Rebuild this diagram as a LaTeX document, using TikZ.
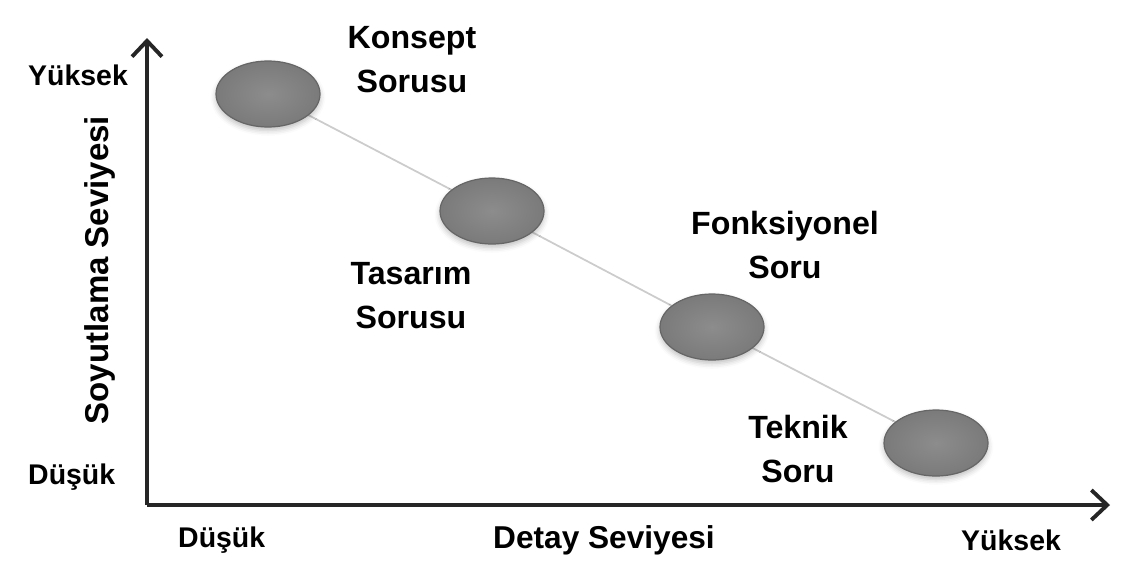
\documentclass[tikz,border=0pt]{standalone}
\usepackage{fontspec}
\setmainfont{Liberation Sans}
\usetikzlibrary{arrows.meta,shadows.blur,shapes.geometric,backgrounds}
\begin{document}
\begin{tikzpicture}[x=0.02cm,y=-0.02cm,
  axis/.style={line width=2pt,draw=black!85,-{Straight Barb[length=9pt,width=17pt,line width=2.2pt]}},
  link/.style={draw=black!20,line width=1pt},
  disc/.style={ellipse,minimum width=104*0.02cm,minimum height=66*0.02cm,inner sep=0pt,
    draw=black!60,line width=0.7pt,inner color=black!45,outer color=black!52,
    blur shadow={shadow xshift=0pt,shadow yshift=-2pt,shadow blur radius=3pt,shadow opacity=25}},
  qlabel/.style={font=\bfseries\fontsize{18.3}{25}\selectfont,align=center},
  tick/.style={font=\bfseries\fontsize{16.2}{19}\selectfont},
  title/.style={font=\bfseries\fontsize{18}{21}\selectfont}]
\useasboundingbox (0,0) rectangle (1131,565);
% axes
\coordinate (O) at (147,505);
\coordinate (ytop) at (147,38);
\coordinate (xend) at (1110,505);
\draw[axis] (O) -- (ytop);
\draw[axis] (O) -- (xend);
% discs along the diagonal
\node[disc] (c1) at (268,94) {};
\node[disc] (c2) at (492,211) {};
\node[disc] (c3) at (712,327) {};
\node[disc] (c4) at (936,443) {};
\begin{scope}[on background layer]
  \draw[link] (c1.center) -- (c2.center) -- (c3.center) -- (c4.center);
\end{scope}
% labels of the discs
\node[qlabel] (l1) at (412,60) {Konsept\\Sorusu};
\node[qlabel] (l2) at (411,296) {Tasarım\\Sorusu};
\node[qlabel] (l3) at (785,245) {Fonksiyonel\\Soru};
\node[qlabel] (l4) at (798,449) {Teknik\\Soru};
% axis labels
\node[tick,anchor=west] (yhi) at (22,75) {Yüksek};
\node[tick,anchor=west] (ylo) at (22,477) {Düşük};
\node[tick,anchor=west] (xlo) at (172,540) {Düşük};
\node[tick,anchor=west] (xhi) at (955,540) {Yüksek};
\node[title] (xt) at (604,540) {Detay Seviyesi};
\node[font=\bfseries\fontsize{18.8}{22}\selectfont,rotate=90] (yt) at (100,270) {Soyutlama Seviyesi};
\end{tikzpicture}
\end{document}
